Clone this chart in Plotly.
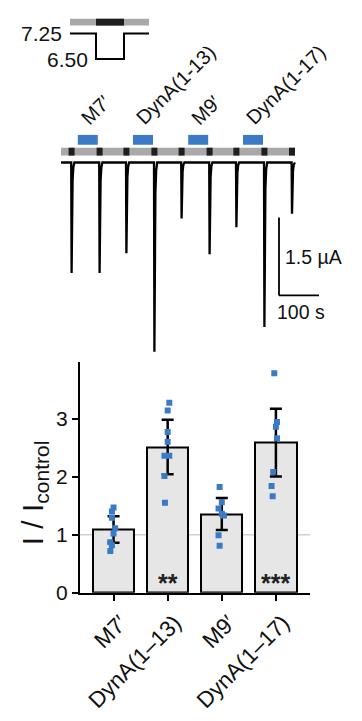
import plotly.graph_objects as go

W, H = 362, 721

# ---------------- data ----------------
# bar chart (I / I_control)
categories = ["M7′", "DynA(1–13)", "M9′", "DynA(1–17)"]
mean_ratio = [1.09, 2.51, 1.35, 2.59]
err_plus = [0.23, 0.47, 0.28, 0.58]
err_minus = [0.23, 0.47, 0.27, 0.59]
points_m7 = [1.47, 1.40, 1.29, 1.11, 1.02, 0.87, 0.82, 0.72]
points_d13 = [3.27, 3.14, 2.77, 2.60, 2.36, 2.36, 2.01, 1.55]
points_m9 = [1.82, 1.56, 1.45, 1.36, 1.33, 0.99, 0.81]
points_d17 = [3.78, 2.94, 2.86, 2.66, 2.08, 1.84, 1.66]
jitter_m7 = [0.0, -0.03, -0.03, 0.03, 0.0, -0.06, -0.03, -0.06]
jitter_d13 = [0.03, 0.0, 0.0, 0.0, -0.06, 0.03, -0.06, -0.05]
jitter_m9 = [-0.04, 0.0, -0.06, 0.0, 0.04, -0.06, -0.04]
jitter_d17 = [-0.03, 0.02, 0.0, 0.02, -0.05, -0.08, -0.06]
significance = ["", "**", "", "***"]
y_ticks = [0, 1, 2, 3]

# current trace (µA vs s)
pulse_start_s = [19, 89, 156, 226, 294, 364, 431, 501, 570]
pulse_dur_s = 15
peak_current_uA = [2.13, 2.13, 1.75, 3.65, 1.08, 1.77, 1.25, 3.17, 0.99]
spike_offset_s = [0, 6.5, 7.5, 8.5, 10, 12, 14.5]
spike_shape = [0, 0, -1.0, -0.5, -0.16, -0.04, 0]
protocol_end_s = 585
app_start_s = [42, 180, 318, 455]
app_dur_s = 50
app_labels = ["M7′", "DynA(1-13)", "M9′", "DynA(1-17)"]
scale_time_s = 100
scale_current_uA = 1.5

# pH protocol inset
ph_levels = [7.25, 6.50, 7.25]
ph_phase_edges = [0, 26, 54, 79]

# ---------------- helpers ----------------
def fx(px):
    return px / W

def fy(py):
    return 1 - py / H

FONT = "Arial, Liberation Sans, sans-serif"
BLUE = "#3b7bc6"
TXT = "#111111"

fig = go.Figure()

# ---- bar chart ----
fig.add_trace(go.Bar(
    x=list(range(len(categories))), y=mean_ratio, width=0.765,
    marker=dict(color="#e6e6e6", line=dict(color="black", width=2)),
    xaxis="x", yaxis="y", showlegend=False, hoverinfo="skip"))

fig.add_trace(go.Scatter(
    x=list(range(len(categories))), y=mean_ratio, mode="markers",
    marker=dict(size=1, opacity=0),
    error_y=dict(type="data", array=err_plus, arrayminus=err_minus,
                 color="black", thickness=2.5, width=6),
    xaxis="x", yaxis="y", showlegend=False, hoverinfo="skip"))

for i, (pts, jit) in enumerate([(points_m7, jitter_m7), (points_d13, jitter_d13),
                                (points_m9, jitter_m9), (points_d17, jitter_d17)]):
    fig.add_trace(go.Scatter(
        x=[i + j for j in jit], y=pts, mode="markers",
        marker=dict(symbol="square", size=6, color=BLUE, line=dict(width=0)),
        xaxis="x", yaxis="y", showlegend=False, hoverinfo="skip"))

# ---- current trace ----
t_trace, i_trace = [0], [0]
for ps, amp in zip(pulse_start_s, peak_current_uA):
    for o, s in zip(spike_offset_s, spike_shape):
        t_trace.append(ps + o)
        i_trace.append(s * amp)
t_trace.append(protocol_end_s)
i_trace.append(0)

fig.add_trace(go.Scatter(
    x=t_trace, y=i_trace, mode="lines",
    line=dict(color="black", width=2.3),
    xaxis="x2", yaxis="y2", showlegend=False, hoverinfo="skip"))

# ---- pH inset step ----
ix, iy = [], []
for k, lvl in enumerate(ph_levels):
    ix += [ph_phase_edges[k], ph_phase_edges[k + 1]]
    iy += [lvl, lvl]
fig.add_trace(go.Scatter(
    x=ix, y=iy, mode="lines", line=dict(color="black", width=2),
    xaxis="x3", yaxis="y3", showlegend=False, hoverinfo="skip"))

shapes = []
# reference line at 1
shapes.append(dict(type="line", xref="x domain", yref="y", x0=0, x1=1, y0=1, y1=1,
                   line=dict(color="#cfcfcf", width=1.5), layer="below"))

# stimulus bar
shapes.append(dict(type="rect", xref="x2", yref="paper", x0=0, x1=protocol_end_s,
                   y0=fy(158), y1=fy(150), fillcolor="#a9a9a9", line=dict(width=0)))
for ps in pulse_start_s:
    shapes.append(dict(type="rect", xref="x2", yref="paper", x0=ps, x1=ps + pulse_dur_s,
                       y0=fy(158), y1=fy(150), fillcolor="#1e1e1e", line=dict(width=0)))
for a in app_start_s:
    shapes.append(dict(type="rect", xref="x2", yref="paper", x0=a, x1=a + app_dur_s,
                       y0=fy(147), y1=fy(137), fillcolor=BLUE, line=dict(width=0)))

# scale bar
sb_x0 = 545
sb_y0 = -2.563
shapes.append(dict(type="line", xref="x2", yref="y2", x0=sb_x0, x1=sb_x0,
                   y0=sb_y0, y1=sb_y0 + scale_current_uA, line=dict(color="black", width=1.8)))
shapes.append(dict(type="line", xref="x2", yref="y2", x0=sb_x0, x1=sb_x0 + scale_time_s,
                   y0=sb_y0, y1=sb_y0, line=dict(color="black", width=1.8)))

# inset bar
shapes.append(dict(type="rect", xref="x3", yref="paper", x0=ph_phase_edges[0], x1=ph_phase_edges[-1],
                   y0=fy(26), y1=fy(19), fillcolor="#a9a9a9", line=dict(width=0)))
shapes.append(dict(type="rect", xref="x3", yref="paper", x0=ph_phase_edges[1], x1=ph_phase_edges[2],
                   y0=fy(26), y1=fy(19), fillcolor="#1e1e1e", line=dict(width=0)))

annotations = []
# application labels
for a, lab in zip(app_start_s, app_labels):
    annotations.append(dict(x=a, y=fy(134), xref="x2", yref="paper", text=lab,
                            textangle=-45, xanchor="left", yanchor="bottom", xshift=-4,
                            showarrow=False, font=dict(size=20, color=TXT, family=FONT)))
# scale bar labels
annotations.append(dict(x=sb_x0, y=sb_y0 + scale_current_uA / 2, xref="x2", yref="y2",
                        text=f"{scale_current_uA} µA", xanchor="left", yanchor="middle", xshift=4,
                        showarrow=False, font=dict(size=19.5, color=TXT, family=FONT)))
annotations.append(dict(x=sb_x0, y=sb_y0, xref="x2", yref="y2",
                        text=f"{scale_time_s} s", xanchor="left", yanchor="top", xshift=-4, yshift=-4,
                        showarrow=False, font=dict(size=19.5, color=TXT, family=FONT)))
# inset labels
annotations.append(dict(x=ph_phase_edges[0], y=ph_levels[0], xref="x3", yref="y3",
                        text=f"{ph_levels[0]:.2f}", xanchor="right", yanchor="middle", xshift=-6,
                        showarrow=False, font=dict(size=21, color=TXT, family=FONT)))
annotations.append(dict(x=ph_phase_edges[1], y=ph_levels[1], xref="x3", yref="y3",
                        text=f"{ph_levels[1]:.2f}", xanchor="right", yanchor="middle", xshift=-6,
                        showarrow=False, font=dict(size=21, color=TXT, family=FONT)))
# significance
for i, s in enumerate(significance):
    if s:
        annotations.append(dict(x=i, y=0, xref="x", yref="y", text=f"<b>{s}</b>", xanchor="center",
                                yanchor="bottom", yshift=-6, showarrow=False,
                                font=dict(size=25, color="#222", family=FONT)))
# y title
annotations.append(dict(x=fx(34), y=fy(501), xref="paper", yref="paper",
                        text="I / I<sub>control</sub>", textangle=-90,
                        xanchor="center", yanchor="middle", showarrow=False,
                        font=dict(size=30, color=TXT, family=FONT)))

fig.update_layout(
    width=W, height=H, margin=dict(l=0, r=0, t=0, b=0),
    paper_bgcolor="white", plot_bgcolor="rgba(0,0,0,0)",
    font=dict(family=FONT, color=TXT),
    bargap=0,
    shapes=shapes, annotations=annotations,
    xaxis=dict(domain=[fx(80), fx(310)], range=[-0.62, 3.63], anchor="y",
               tickvals=list(range(len(categories))), ticktext=categories, tickangle=-45,
               ticks="outside", ticklen=6, tickwidth=2, tickcolor="black",
               ticklabelshift=7,
               showline=True, linewidth=2, linecolor="black", showgrid=False, zeroline=False,
               tickfont=dict(size=22.5, family=FONT, color=TXT), fixedrange=True),
    yaxis=dict(domain=[fy(602), fy(368)], range=[0, 3.966], anchor="x",
               tickvals=y_ticks, ticks="outside", ticklen=6, tickwidth=2, tickcolor="black",
               showline=True, linewidth=2, linecolor="black", showgrid=False, zeroline=False,
               tickfont=dict(size=21, family=FONT, color=TXT), fixedrange=True),
    xaxis2=dict(domain=[fx(61), fx(330)], range=[0, 672.5], anchor="y2", visible=False),
    yaxis2=dict(domain=[fy(370), fy(128)], range=[-3.892, 0.7025], anchor="x2", visible=False),
    xaxis3=dict(domain=[fx(70), fx(149)], range=[0, 79], anchor="y3", visible=False),
    yaxis3=dict(domain=[fy(70), fy(15)], range=[6.212, 7.798], anchor="x3", visible=False),
)

post = (
    "document.documentElement.style.margin='0px';"
    "document.documentElement.style.overflow='hidden';"
    "document.body.style.margin='0px';"
    "document.body.style.overflow='hidden';"
    "var gd=document.getElementById('{plot_id}');"
    "var p=gd.parentElement;p.style.position='absolute';p.style.left='0px';p.style.top='0px';"
    "p.style.width='362px';p.style.height='721px';p.style.overflow='hidden';"
)
fig.write_html("out.html", config={"displayModeBar": False}, post_script=post)
